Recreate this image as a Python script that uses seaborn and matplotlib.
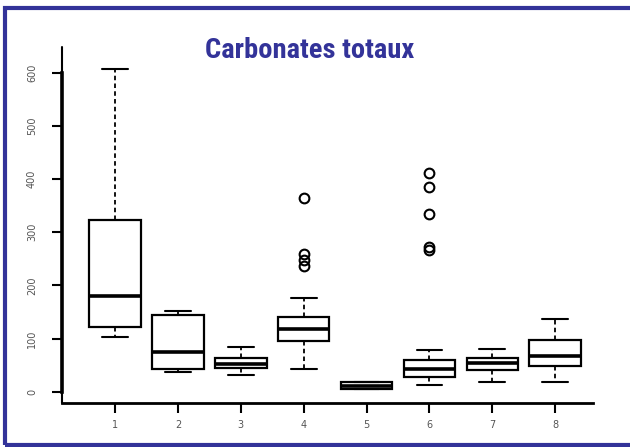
import numpy as np
import pandas as pd
import seaborn as sns
import matplotlib.pyplot as plt
from matplotlib.patches import Rectangle

# five-number summaries (one entry per station)
groups = ["1", "2", "3", "4", "5", "6", "7", "8"]
whis_lo = [103, 38, 32, 43, 5, 13, 19, 19]
q1 = [122, 43, 45, 96, 6, 28, 41, 49]
med = [180, 75, 53, 118, 11, 43, 54, 68]
q3 = [323, 145, 64, 141, 18, 60, 64, 98]
whis_hi = [607, 152, 85, 176, 19, 79, 81, 137]
fliers = [[], [], [], [237, 248, 259, 365], [], [266, 272, 335, 384, 412], [], []]


def summary_to_obs(lo, a1, m, a3, hi, out):
    # repeat the read values so that the quartiles land exactly on them
    f = len(out)
    na = 2 + 2 * f
    nb = na - f
    return [lo] + [a1] * na + [m] + [a3] * nb + [hi] + list(out)


rows = []
for i, g in enumerate(groups):
    for v in summary_to_obs(whis_lo[i], q1[i], med[i], q3[i], whis_hi[i], fliers[i]):
        rows.append({"station": g, "carbonates": v})
df = pd.DataFrame(rows)

sns.set_style("white")
fig = plt.figure(figsize=(6.3, 4.47), dpi=100)
ax = fig.add_axes([62 / 630, 1 - 403 / 447, 531 / 630, 356 / 447])

sns.boxplot(data=df, x="station", y="carbonates", order=groups, ax=ax,
            color="white", linecolor="black", linewidth=1.6, width=0.82,
            whiskerprops={"linestyle": (0, (2.5, 1.8)), "linewidth": 1.3},
            capprops={"linewidth": 1.5},
            medianprops={"linewidth": 2.6},
            flierprops={"marker": "o", "markersize": 7, "markerfacecolor": "none",
                        "markeredgecolor": "black", "markeredgewidth": 1.5})

ax.set_xlim(-0.843, 7.6)
ax.set_ylim(-21, 648)
ax.set_xlabel("")
ax.set_ylabel("")
ax.set_yticks([0, 100, 200, 300, 400, 500, 600])

for s in ["top", "right"]:
    ax.spines[s].set_visible(False)
ax.spines["left"].set_linewidth(2.6)
ax.spines["left"].set_bounds(0, 600)
ax.spines["bottom"].set_linewidth(2)
ax.spines["left"].set_color("black")
ax.spines["bottom"].set_color("black")
ax.axvline(-0.843, color="black", lw=1.5, clip_on=False)

ax.tick_params(axis="both", which="both", direction="out", length=7, width=1.5,
               color="black", labelcolor="#555555", labelsize=7, left=True, bottom=True)
ax.tick_params(axis="y", pad=11)
ax.tick_params(axis="x", pad=5)
for lab in ax.get_yticklabels():
    lab.set_rotation(90)
    lab.set_va("center")

fig.text(0.491, 0.887, "Carbonates totaux", ha="center", va="center",
         fontsize=20.5, fontweight="bold", color="#333399",
         family=["Roboto Condensed", "DejaVu Sans"])

# blue frame around the slide area
fig.patches.append(Rectangle((5 / 630, 2 / 447), 1.0, 437 / 447,
                             transform=fig.transFigure, fill=False,
                             edgecolor="#333399", linewidth=3, clip_on=False))

fig.savefig("out.png", dpi=100)
